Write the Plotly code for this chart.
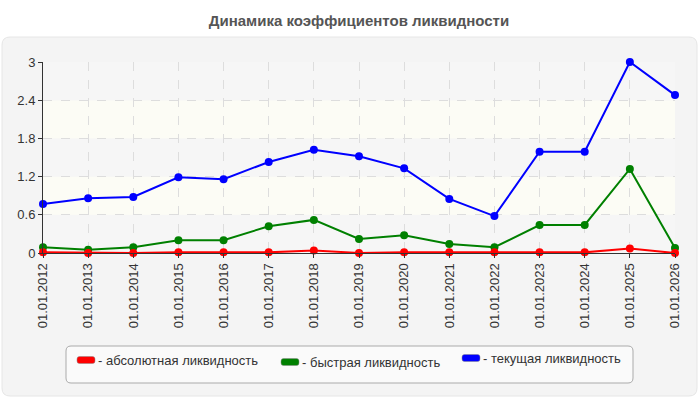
import plotly.graph_objects as go

dates = ["01.01.%d" % y for y in range(2012, 2027)]
absolute = [0.01, 0.0, 0.0, 0.01, 0.01, 0.01, 0.04, 0.0, 0.01, 0.01, 0.01, 0.01, 0.01, 0.07, 0.0]
quick = [0.09, 0.05, 0.09, 0.20, 0.20, 0.42, 0.52, 0.22, 0.28, 0.14, 0.09, 0.44, 0.44, 1.32, 0.08]
current = [0.77, 0.86, 0.88, 1.19, 1.16, 1.43, 1.62, 1.52, 1.33, 0.85, 0.58, 1.59, 1.59, 3.0, 2.48]
series_names = ["- абсолютная ликвидность", "- быстрая ликвидность", "- текущая ликвидность"]
series_colors = ["#ff0000", "#008000", "#0000ff"]
y_ticks = [0, 0.6, 1.2, 1.8, 2.4, 3]
y_tick_text = ["0", "0.6", "1.2", "1.8", "2.4", "3"]

W, H = 700, 400
L, R, T, B = 43, 25, 62, 147
PW, PH = W - L - R, H - T - B

def px(x):
    return (x - L) / PW

def py(y):
    return (H - B - y) / PH

fig = go.Figure()
for vals, name, col in [(current, series_names[2], series_colors[2]),
                        (quick, series_names[1], series_colors[1]),
                        (absolute, series_names[0], series_colors[0])]:
    fig.add_trace(go.Scatter(x=dates, y=vals, mode="lines+markers", name=name,
                             line=dict(color=col, width=2), marker=dict(color=col, size=8),
                             cliponaxis=False, showlegend=False))

def rounded(x0, y0, x1, y1, r):
    X = lambda v: px(v)
    Y = lambda v: py(v)
    p = f"M {X(x0+r)},{Y(y0)} L {X(x1-r)},{Y(y0)} Q {X(x1)},{Y(y0)} {X(x1)},{Y(y0+r)} "
    p += f"L {X(x1)},{Y(y1-r)} Q {X(x1)},{Y(y1)} {X(x1-r)},{Y(y1)} "
    p += f"L {X(x0+r)},{Y(y1)} Q {X(x0)},{Y(y1)} {X(x0)},{Y(y1-r)} "
    p += f"L {X(x0)},{Y(y0+r)} Q {X(x0)},{Y(y0)} {X(x0+r)},{Y(y0)} Z"
    return p

shapes = []
shapes.append(dict(type="path", xref="paper", yref="paper", layer="below",
                   path=rounded(2, 37, 697, 396, 8), fillcolor="#f4f4f4",
                   line=dict(color="#e6e6e6", width=1)))
for i in range(len(y_ticks) - 1):
    shapes.append(dict(type="rect", xref="paper", yref="y", layer="below",
                       x0=0, x1=1, y0=y_ticks[i], y1=y_ticks[i + 1],
                       fillcolor="#f6f6f6" if i % 2 == 0 else "#fcfcf5",
                       line=dict(width=0)))
shapes.append(dict(type="path", xref="paper", yref="paper",
                   path=rounded(66, 346, 633, 383, 5), fillcolor="#fafafa",
                   line=dict(color="#aaaaaa", width=1)))

annotations = []
leg = [(77, 360), (281, 362), (462, 358)]
for (lx, ly), name, col in zip(leg, series_names, series_colors):
    shapes.append(dict(type="path", xref="paper", yref="paper",
                       path=rounded(lx, ly - 3.5, lx + 18, ly + 3.5, 2.5), fillcolor=col,
                       line=dict(color="#888888", width=0.5)))
    annotations.append(dict(xref="paper", yref="paper", x=px(lx + 19), y=py(ly),
                            text=name, showarrow=False, xanchor="left", yanchor="middle",
                            font=dict(size=13, color="#333333")))

fig.update_layout(
    width=W, height=H,
    margin=dict(l=L, r=R, t=T, b=B),
    paper_bgcolor="white", plot_bgcolor="rgba(0,0,0,0)",
    font=dict(family="Liberation Sans, Arial, sans-serif", size=13, color="#333333"),
    title=dict(text="<b>Динамика коэффициентов ликвидности</b>", x=0.5, xref="paper",
               xanchor="center", y=1 - 21 / H, yanchor="middle",
               font=dict(size=15, color="#555555")),
    shapes=shapes, annotations=annotations, showlegend=False,
    xaxis=dict(type="category", range=[0, len(dates) - 1], tickangle=-90,
               showgrid=True, gridcolor="#dddddd", griddash="dash", gridwidth=1,
               showline=True, linecolor="#333333", linewidth=1,
               ticks="outside", ticklen=4, tickcolor="#333333",
               tickfont=dict(size=13, color="#333333"), zeroline=False),
    yaxis=dict(range=[0, 3], tickvals=y_ticks, ticktext=y_tick_text,
               showgrid=True, gridcolor="#dddddd", griddash="dash", gridwidth=1,
               showline=True, linecolor="#333333", linewidth=1,
               ticks="outside", ticklen=4, tickcolor="#333333",
               tickfont=dict(size=13, color="#333333"), zeroline=False),
)

fig.write_html("out.html")
